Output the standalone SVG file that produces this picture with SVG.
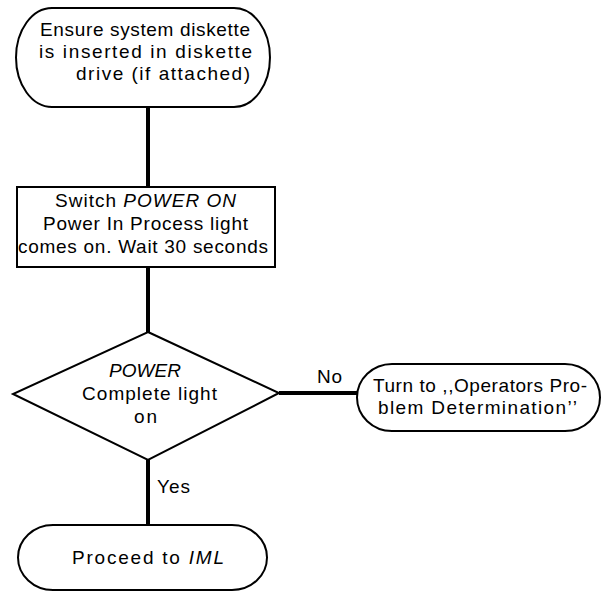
<svg xmlns="http://www.w3.org/2000/svg" width="608" height="592" viewBox="0 0 608 592">
  <style>
    .shape { fill: #ffffff; stroke: #000000; stroke-width: 2; }
    .link { fill: none; stroke: #000000; stroke-width: 4; }
    .label { font-family: "Liberation Sans", Arial, sans-serif; font-size: 19px; fill: #000000; }
    .mid { text-anchor: middle; }
    .it { font-style: italic; }
  </style>
  <rect width="608" height="592" fill="#ffffff"/>

  <!-- connectors -->
  <g id="connectors">
    <line class="link" x1="148" y1="107" x2="148" y2="187"/>
    <line class="link" x1="148" y1="267" x2="148" y2="332"/>
    <line class="link" x1="279" y1="393" x2="358" y2="393"/>
    <line class="link" x1="148" y1="460" x2="148" y2="525"/>
    <text class="label" x="317" y="383" textLength="25">No</text>
    <text class="label" x="157" y="493" textLength="33">Yes</text>
  </g>

  <!-- start terminal -->
  <g id="check-diskette">
    <path class="shape" d="M52,8 H234 A36,49.5 0 0 1 234,107 H52 A36,49.5 0 0 1 52,8 Z"/>
    <text class="label" x="40" y="36" textLength="210">Ensure system diskette</text>
    <text class="label" x="39" y="58" textLength="213">is inserted in diskette</text>
    <text class="label" x="76" y="80" textLength="174">drive (if attached)</text>
  </g>

  <!-- process box -->
  <g id="power-on">
    <rect class="shape" x="17" y="187" width="258" height="80"/>
    <text class="label" x="55" y="207" textLength="181">Switch <tspan class="it">POWER ON</tspan></text>
    <text class="label" x="43" y="230" textLength="205">Power In Process light</text>
    <text class="label" x="18" y="253" textLength="250">comes on. Wait 30 seconds</text>
  </g>

  <!-- decision -->
  <g id="power-complete">
    <polygon class="shape" points="148,332 279,393 148,460 13,394"/>
    <text class="label mid it" x="145" y="377">POWER</text>
    <text class="label" x="82" y="400" textLength="135">Complete light</text>
    <text class="label" x="134" y="423" textLength="23">on</text>
  </g>

  <!-- no branch terminal -->
  <g id="problem-determination">
    <path class="shape" d="M392,364 H565 A35,33.5 0 0 1 565,431 H392 A35,33.5 0 0 1 392,364 Z"/>
    <text class="label" x="373" y="392" textLength="214">Turn to ,,Operators Pro-</text>
    <text class="label" x="378" y="414" textLength="199">blem Determination’’</text>
  </g>

  <!-- yes branch terminal -->
  <g id="proceed-iml">
    <path class="shape" d="M53,525 H232 A35,32.5 0 0 1 232,590 H53 A35,32.5 0 0 1 53,525 Z"/>
    <text class="label" x="72" y="564" textLength="152">Proceed to <tspan class="it">IML</tspan></text>
  </g>
</svg>
